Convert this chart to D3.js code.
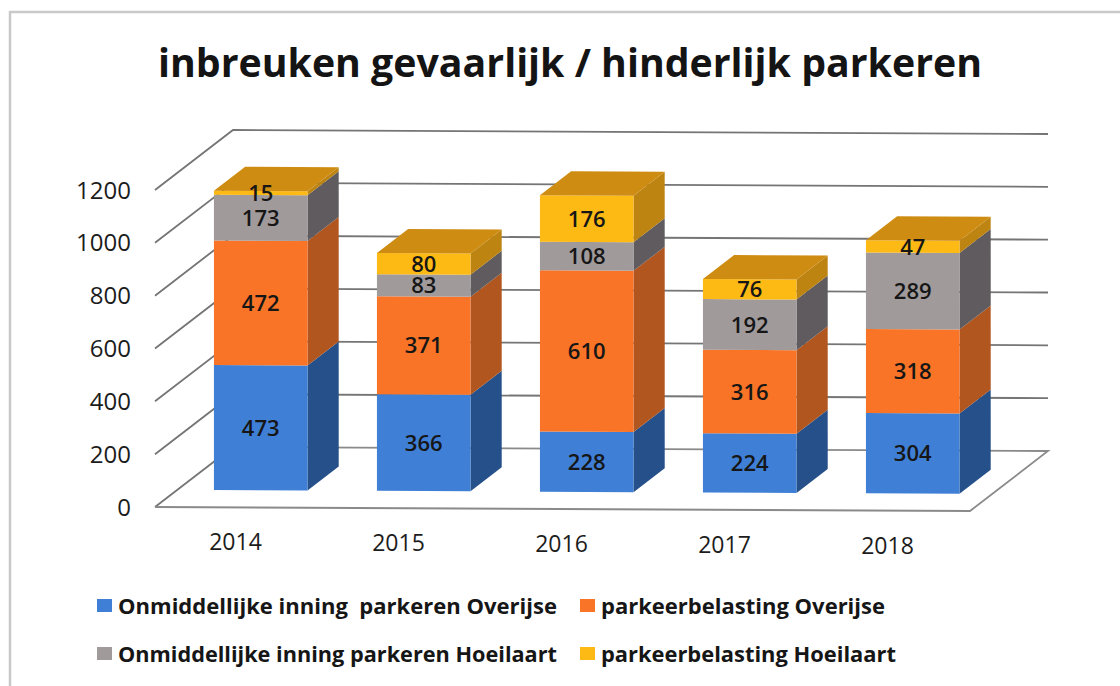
<!DOCTYPE html>
<html lang="nl">
<head>
<meta charset="utf-8">
<title>inbreuken gevaarlijk / hinderlijk parkeren</title>
<script src="https://cdn.jsdelivr.net/npm/d3@7"></script>
<style>
  html, body { margin: 0; background: #fff; }
  svg { display: block; font-family: "Open Sans", "Noto Sans", sans-serif; }
</style>
</head>
<body>
<div id="chart"></div>
<script>
  const YEARS = ['2014', '2015', '2016', '2017', '2018'];
  const SERIES_NAMES = [
    'Onmiddellijke inning  parkeren Overijse',
    'parkeerbelasting Overijse',
    'Onmiddellijke inning parkeren Hoeilaart',
    'parkeerbelasting Hoeilaart'
  ];
  const INNING_OVERIJSE = [473, 366, 228, 224, 304];
  const BELASTING_OVERIJSE = [472, 371, 610, 316, 318];
  const INNING_HOEILAART = [173, 83, 108, 192, 289];
  const BELASTING_HOEILAART = [15, 80, 176, 76, 47];
  const Y_TICKS = [0, 200, 400, 600, 800, 1000, 1200];

  const FRONT_COLORS = ['#3f80d6', '#f97426', '#a09a9b', '#fdb914'];
  const SIDE_COLORS = ['#265089', '#b2561f', '#5f5b5e', '#bd8412'];
  const TOP_COLOR = '#cf8c12';

  const width = 1120; const height = 686;
  const svg = d3.select('#chart').append('svg')
    .attr('width', width).attr('height', height);

  // vloer: voorrand van links naar rechts, diepte loopt naar achter
  const x = d3.scaleBand().domain(YEARS).range([155, 970]).paddingInner(0.426).paddingOuter(0.213);
  const y = d3.scaleLinear().domain([0, 1200]).range([507, 190]);
  const depthX = 78; const depthY = -60;
  const tilt = 4 / 815;

  // scherm-coördinaat van (x, waarde, diepte 0..1)
  function project(px, value, depth) {
    return [px + depth * depthX, y(value) + (px - 155) * tilt + depth * depthY];
  }
  const polygon = (pts) => pts.map((p) => p.join(',')).join(' ');

  // pagina-rand
  svg.append('path')
    .attr('d', 'M10,686V12H1120')
    .attr('fill', 'none').attr('stroke', '#c9c9c9').attr('stroke-width', 2.5);

  // titel
  svg.append('text')
    .attr('x', 570).attr('y', 77)
    .attr('text-anchor', 'middle')
    .attr('font-size', 39).attr('font-weight', 700).attr('fill', '#141414')
    .attr('textLength', 824).attr('lengthAdjust', 'spacingAndGlyphs')
    .text('inbreuken gevaarlijk / hinderlijk parkeren');

  // rasterlijnen: linkerwand en achterwand
  const grid = svg.append('g').attr('fill', 'none').attr('stroke', '#757575').attr('stroke-width', 1.8);
  Y_TICKS.forEach((t) => {
    const a = project(155, t, 0);
    const b = project(155, t, 1);
    const c = project(970, t, 1);
    grid.append('polyline').attr('points', polygon(t === 0 ? [a, b] : [a, b, c]));
  });
  // vloer
  grid.append('polyline')
    .attr('points', polygon([project(155, 0, 1), project(970, 0, 1), project(970, 0, 0), project(155, 0, 0)]))
    .attr('stroke', '#8a8a8a');

  // y-as labels
  svg.append('g').selectAll('text').data(Y_TICKS).join('text')
    .attr('x', 131)
    .attr('y', (d) => y(d))
    .attr('dy', '0.36em')
    .attr('text-anchor', 'end')
    .attr('font-size', 24).attr('fill', '#1c1c1c')
    .text((d) => d);

  // jaartallen
  svg.append('g').selectAll('text').data(YEARS).join('text')
    .attr('x', (d) => x(d) + x.bandwidth() / 2 - 1)
    .attr('y', (d) => 542 + (x(d) - 155) * tilt)
    .attr('dy', '0.36em')
    .attr('text-anchor', 'middle')
    .attr('font-size', 23).attr('fill', '#1c1c1c')
    .text((d) => d);

  // gestapelde 3D-kolommen
  const rows = YEARS.map((year, i) => ({
    year,
    s0: INNING_OVERIJSE[i],
    s1: BELASTING_OVERIJSE[i],
    s2: INNING_HOEILAART[i],
    s3: BELASTING_HOEILAART[i]
  }));
  const stacked = d3.stack().keys(['s0', 's1', 's2', 's3'])(rows);
  const D_FRONT = 0.285; const D_BACK = 0.685;

  const bars = svg.append('g').attr('transform', 'translate(2,0)');
  rows.forEach((row, i) => {
    const x0 = x(row.year);
    const x1 = x0 + x.bandwidth();
    const g = bars.append('g');
    stacked.forEach((layer, s) => {
      const [v0, v1] = layer[i];
      g.append('polygon')
        .attr('fill', SIDE_COLORS[s])
        .attr('points', polygon([project(x1, v0, D_FRONT), project(x1, v0, D_BACK), project(x1, v1, D_BACK), project(x1, v1, D_FRONT)]));
      g.append('polygon')
        .attr('fill', FRONT_COLORS[s])
        .attr('points', polygon([project(x0, v0, D_FRONT), project(x1, v0, D_FRONT), project(x1, v1, D_FRONT), project(x0, v1, D_FRONT)]));
    });
    const total = stacked[3][i][1];
    g.append('polygon')
      .attr('fill', TOP_COLOR)
      .attr('points', polygon([project(x0, total, D_FRONT), project(x1, total, D_FRONT), project(x1, total, D_BACK), project(x0, total, D_BACK)]));
  });

  // waardelabels boven alles
  const labels = svg.append('g').attr('transform', 'translate(2,0)');
  stacked.forEach((layer) => {
    layer.forEach((d, i) => {
      const px = x(YEARS[i]) + x.bandwidth() / 2;
      const p = project(px, (d[0] + d[1]) / 2, D_FRONT);
      labels.append('text')
        .attr('x', p[0]).attr('y', p[1])
        .attr('dy', '0.36em')
        .attr('text-anchor', 'middle')
        .attr('font-size', 22).attr('font-weight', 600).attr('fill', '#161616')
        .text(d[1] - d[0]);
    });
  });

  // legenda
  const LEGEND_COLS = [97, 580];
  const LEGEND_ROWS = [606, 654];
  const LEGEND_WIDTHS = [439, 284, 439, 295];
  const legend = svg.append('g');
  SERIES_NAMES.forEach((name, i) => {
    const lx = LEGEND_COLS[i % 2];
    const ly = LEGEND_ROWS[Math.floor(i / 2)];
    legend.append('rect')
      .attr('x', lx).attr('y', ly - 7).attr('width', 15).attr('height', 13)
      .attr('fill', FRONT_COLORS[i]);
    legend.append('text')
      .attr('x', lx + 21).attr('y', ly)
      .attr('dy', '0.36em')
      .attr('font-size', 22).attr('font-weight', 700).attr('fill', '#161616')
      .style('white-space', 'pre')
      .attr('textLength', LEGEND_WIDTHS[i]).attr('lengthAdjust', 'spacingAndGlyphs')
      .text(name);
  });
</script>
</body>
</html>
